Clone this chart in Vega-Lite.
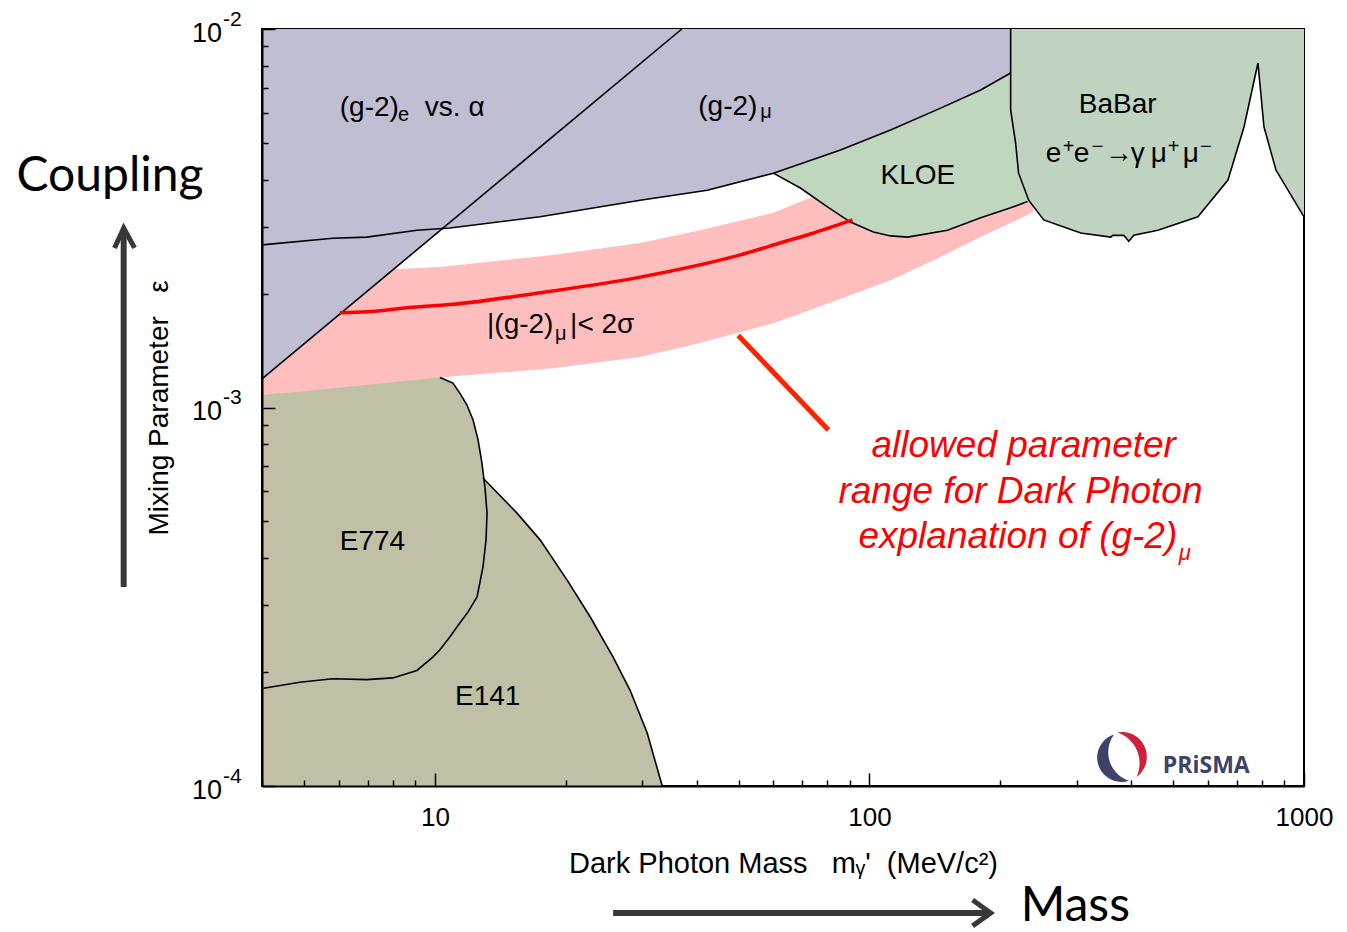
{
  "$schema": "https://vega.github.io/schema/vega-lite/v6.json",
  "width": 1042,
  "height": 757,
  "autosize": {"type": "none"},
  "padding": {"left": 262, "top": 29, "right": 43, "bottom": 146},
  "background": "white",
  "config": {"view": {"stroke": "black", "strokeWidth": 2}, "font": "Liberation Sans"},
  "datasets": {
    "pink": [
      {"x": 4, "y": 0.00108, "y2": 0.00217},
      {"x": 4.886, "y": 0.0011, "y2": 0.0022},
      {"x": 7.67, "y": 0.00116, "y2": 0.00231},
      {"x": 10.27, "y": 0.0012, "y2": 0.00235},
      {"x": 18.7, "y": 0.00127, "y2": 0.00253},
      {"x": 29.68, "y": 0.00136, "y2": 0.00272},
      {"x": 40.79, "y": 0.00148, "y2": 0.00294},
      {"x": 60.09, "y": 0.00167, "y2": 0.00327},
      {"x": 73.13, "y": 0.00181, "y2": 0.00358},
      {"x": 111.8, "y": 0.00217, "y2": 0.00411},
      {"x": 145.8, "y": 0.0025, "y2": 0.00451},
      {"x": 180.3, "y": 0.00282, "y2": 0.00485},
      {"x": 238, "y": 0.00328, "y2": 0.0054}
    ],
    "olive": [
      {"x": 4, "y": 0.0001, "y2": 0.0011},
      {"x": 4.886, "y": 0.0001, "y2": 0.00112},
      {"x": 7.67, "y": 0.0001, "y2": 0.00118},
      {"x": 10.27, "y": 0.0001, "y2": 0.00121},
      {"x": 11.0, "y": 0.0001, "y2": 0.00116},
      {"x": 11.42, "y": 0.0001, "y2": 0.00109},
      {"x": 11.85, "y": 0.0001, "y2": 0.001015},
      {"x": 12.24, "y": 0.0001, "y2": 0.000927},
      {"x": 12.57, "y": 0.0001, "y2": 0.000821},
      {"x": 12.83, "y": 0.0001, "y2": 0.000713},
      {"x": 12.9, "y": 0.0001, "y2": 0.000651},
      {"x": 15.45, "y": 0.0001, "y2": 0.000526},
      {"x": 17.46, "y": 0.0001, "y2": 0.000447},
      {"x": 20.15, "y": 0.0001, "y2": 0.00035},
      {"x": 22.76, "y": 0.0001, "y2": 0.00028},
      {"x": 25.71, "y": 0.0001, "y2": 0.000219},
      {"x": 28.13, "y": 0.0001, "y2": 0.000179},
      {"x": 30.8, "y": 0.0001, "y2": 0.000138},
      {"x": 33.35, "y": 0.0001, "y2": 0.0001}
    ],
    "blue": [
      {"x": 4, "y": 0.00119, "y2": 0.01},
      {"x": 10.3, "y": 0.00294, "y2": 0.01},
      {"x": 10.83, "y": 0.00298, "y2": 0.01},
      {"x": 17.46, "y": 0.00319, "y2": 0.01},
      {"x": 29.68, "y": 0.00353, "y2": 0.01},
      {"x": 42.33, "y": 0.00375, "y2": 0.01},
      {"x": 60.09, "y": 0.00416, "y2": 0.01},
      {"x": 85.76, "y": 0.00479, "y2": 0.01},
      {"x": 111.8, "y": 0.00541, "y2": 0.01},
      {"x": 145.8, "y": 0.00618, "y2": 0.01},
      {"x": 180.3, "y": 0.0069, "y2": 0.01},
      {"x": 211.3, "y": 0.00765, "y2": 0.01},
      {"x": 230, "y": 0.008, "y2": 0.01}
    ],
    "kloe": [
      {"x": 60.09, "y": 0.00416, "y2": 0.00416},
      {"x": 69.34, "y": 0.0038, "y2": 0.00441},
      {"x": 80.04, "y": 0.00339, "y2": 0.00466},
      {"x": 90.42, "y": 0.00309, "y2": 0.00491},
      {"x": 102.1, "y": 0.00291, "y2": 0.00519},
      {"x": 111.8, "y": 0.00284, "y2": 0.00541},
      {"x": 122.4, "y": 0.00282, "y2": 0.00566},
      {"x": 151.2, "y": 0.00294, "y2": 0.0063},
      {"x": 180.3, "y": 0.00317, "y2": 0.0069},
      {"x": 211.3, "y": 0.00337, "y2": 0.00765},
      {"x": 235, "y": 0.00352, "y2": 0.008}
    ],
    "babar": [
      {"x": 211.3, "y": 0.00611, "y2": 0.01},
      {"x": 216.9, "y": 0.005, "y2": 0.01},
      {"x": 220.4, "y": 0.00416, "y2": 0.01},
      {"x": 232.5, "y": 0.00353, "y2": 0.01},
      {"x": 251.8, "y": 0.00313, "y2": 0.01},
      {"x": 306.4, "y": 0.00289, "y2": 0.01},
      {"x": 359.2, "y": 0.00282, "y2": 0.01},
      {"x": 363.0, "y": 0.00285, "y2": 0.01},
      {"x": 384.8, "y": 0.00285, "y2": 0.01},
      {"x": 395.2, "y": 0.00275, "y2": 0.01},
      {"x": 405.8, "y": 0.00285, "y2": 0.01},
      {"x": 461.0, "y": 0.00294, "y2": 0.01},
      {"x": 569.9, "y": 0.00319, "y2": 0.01},
      {"x": 668.3, "y": 0.00399, "y2": 0.01},
      {"x": 727.6, "y": 0.00551, "y2": 0.01},
      {"x": 783.5, "y": 0.00813, "y2": 0.01},
      {"x": 808.9, "y": 0.00551, "y2": 0.01},
      {"x": 861.9, "y": 0.00424, "y2": 0.01},
      {"x": 1000, "y": 0.00319, "y2": 0.01}
    ],
    "outlines": [
      {"c": "diag", "i": 0, "x": 4, "y": 0.00119},
      {"c": "diag", "i": 1, "x": 37.0, "y": 0.01},
      {"c": "g2mu", "i": 0, "x": 4, "y": 0.00269},
      {"c": "g2mu", "i": 1, "x": 5.82, "y": 0.0028},
      {"c": "g2mu", "i": 2, "x": 6.97, "y": 0.00282},
      {"c": "g2mu", "i": 3, "x": 9.09, "y": 0.00294},
      {"c": "g2mu", "i": 4, "x": 10.83, "y": 0.00298},
      {"c": "g2mu", "i": 5, "x": 17.46, "y": 0.00319},
      {"c": "g2mu", "i": 6, "x": 29.68, "y": 0.00353},
      {"c": "g2mu", "i": 7, "x": 42.33, "y": 0.00375},
      {"c": "g2mu", "i": 8, "x": 60.09, "y": 0.00416},
      {"c": "g2mu", "i": 9, "x": 85.76, "y": 0.00479},
      {"c": "g2mu", "i": 10, "x": 111.8, "y": 0.00541},
      {"c": "g2mu", "i": 11, "x": 145.8, "y": 0.00618},
      {"c": "g2mu", "i": 12, "x": 180.3, "y": 0.0069},
      {"c": "g2mu", "i": 13, "x": 211.3, "y": 0.00765},
      {"c": "kloe", "i": 0, "x": 60.09, "y": 0.00416},
      {"c": "kloe", "i": 1, "x": 69.34, "y": 0.0038},
      {"c": "kloe", "i": 2, "x": 80.04, "y": 0.00339},
      {"c": "kloe", "i": 3, "x": 90.42, "y": 0.00309},
      {"c": "kloe", "i": 4, "x": 102.1, "y": 0.00291},
      {"c": "kloe", "i": 5, "x": 111.8, "y": 0.00284},
      {"c": "kloe", "i": 6, "x": 122.4, "y": 0.00282},
      {"c": "kloe", "i": 7, "x": 151.2, "y": 0.00294},
      {"c": "kloe", "i": 8, "x": 180.3, "y": 0.00317},
      {"c": "kloe", "i": 9, "x": 211.3, "y": 0.00337},
      {"c": "kloe", "i": 10, "x": 231.0, "y": 0.0035},
      {"c": "babar", "i": 0, "x": 211.3, "y": 0.01},
      {"c": "babar", "i": 1, "x": 211.3, "y": 0.00611},
      {"c": "babar", "i": 2, "x": 216.9, "y": 0.005},
      {"c": "babar", "i": 3, "x": 220.4, "y": 0.00416},
      {"c": "babar", "i": 4, "x": 232.5, "y": 0.00353},
      {"c": "babar", "i": 5, "x": 251.8, "y": 0.00313},
      {"c": "babar", "i": 6, "x": 306.4, "y": 0.00289},
      {"c": "babar", "i": 7, "x": 359.2, "y": 0.00282},
      {"c": "babar", "i": 8, "x": 363.0, "y": 0.00285},
      {"c": "babar", "i": 9, "x": 384.8, "y": 0.00285},
      {"c": "babar", "i": 10, "x": 395.2, "y": 0.00275},
      {"c": "babar", "i": 11, "x": 405.8, "y": 0.00285},
      {"c": "babar", "i": 12, "x": 461.0, "y": 0.00294},
      {"c": "babar", "i": 13, "x": 569.9, "y": 0.00319},
      {"c": "babar", "i": 14, "x": 668.3, "y": 0.00399},
      {"c": "babar", "i": 15, "x": 727.6, "y": 0.00551},
      {"c": "babar", "i": 16, "x": 783.5, "y": 0.00813},
      {"c": "babar", "i": 17, "x": 808.9, "y": 0.00551},
      {"c": "babar", "i": 18, "x": 861.9, "y": 0.00424},
      {"c": "babar", "i": 19, "x": 1000, "y": 0.00319},
      {"c": "e774", "i": 0, "x": 10.27, "y": 0.0012},
      {"c": "e774", "i": 1, "x": 11.0, "y": 0.00116},
      {"c": "e774", "i": 2, "x": 11.42, "y": 0.00109},
      {"c": "e774", "i": 3, "x": 11.85, "y": 0.001015},
      {"c": "e774", "i": 4, "x": 12.24, "y": 0.000927},
      {"c": "e774", "i": 5, "x": 12.57, "y": 0.000821},
      {"c": "e774", "i": 6, "x": 12.83, "y": 0.000713},
      {"c": "e774", "i": 7, "x": 13.04, "y": 0.000613},
      {"c": "e774", "i": 8, "x": 13.18, "y": 0.000526},
      {"c": "e774", "i": 9, "x": 13.11, "y": 0.000447},
      {"c": "e774", "i": 10, "x": 12.9, "y": 0.000379},
      {"c": "e774", "i": 11, "x": 12.5, "y": 0.000316},
      {"c": "e774", "i": 12, "x": 11.91, "y": 0.000288},
      {"c": "e774", "i": 13, "x": 11.42, "y": 0.00027},
      {"c": "e774", "i": 14, "x": 10.83, "y": 0.000248},
      {"c": "e774", "i": 15, "x": 10.27, "y": 0.000229},
      {"c": "e774", "i": 16, "x": 9.89, "y": 0.000219},
      {"c": "e774", "i": 17, "x": 9.09, "y": 0.000202},
      {"c": "e774", "i": 18, "x": 8.0, "y": 0.000193},
      {"c": "e774", "i": 19, "x": 6.97, "y": 0.000191},
      {"c": "e774", "i": 20, "x": 5.82, "y": 0.000192},
      {"c": "e774", "i": 21, "x": 4.886, "y": 0.000188},
      {"c": "e774", "i": 22, "x": 4.0, "y": 0.000181},
      {"c": "e141", "i": 0, "x": 12.9, "y": 0.000651},
      {"c": "e141", "i": 1, "x": 15.45, "y": 0.000526},
      {"c": "e141", "i": 2, "x": 17.46, "y": 0.000447},
      {"c": "e141", "i": 3, "x": 20.15, "y": 0.00035},
      {"c": "e141", "i": 4, "x": 22.76, "y": 0.00028},
      {"c": "e141", "i": 5, "x": 25.71, "y": 0.000219},
      {"c": "e141", "i": 6, "x": 28.13, "y": 0.000179},
      {"c": "e141", "i": 7, "x": 30.8, "y": 0.000138},
      {"c": "e141", "i": 8, "x": 33.35, "y": 0.0001}
    ],
    "central": [
      {"x": 6.04, "y": 0.00178},
      {"x": 6.97, "y": 0.00179},
      {"x": 8.9, "y": 0.00184},
      {"x": 10.83, "y": 0.00187},
      {"x": 17.46, "y": 0.00201},
      {"x": 29.68, "y": 0.00221},
      {"x": 50.44, "y": 0.00253},
      {"x": 63.37, "y": 0.002736},
      {"x": 73.13, "y": 0.002873},
      {"x": 91.39, "y": 0.00313}
    ],
    "pointer": [{"x": 49.9, "y": 0.00155, "x2": 80.46, "y2": 0.000872}],
    "labels": [
      {"x": 6.04, "y": 0.00589, "text": "(g-2)"},
      {"x": 9.48, "y": 0.00589, "text": "vs. α"},
      {"x": 40.36, "y": 0.00593, "text": "(g-2)"},
      {"x": 106.0, "y": 0.0039, "text": "KLOE"},
      {"x": 303.1, "y": 0.006, "text": "BaBar"},
      {"x": 254.4, "y": 0.00445, "text": "e"},
      {"x": 295.1, "y": 0.00445, "text": "e"},
      {"x": 347.9, "y": 0.00445, "text": "→"},
      {"x": 399.5, "y": 0.00445, "text": "γ"},
      {"x": 444.1, "y": 0.00445, "text": "μ"},
      {"x": 526.2, "y": 0.00445, "text": "μ"},
      {"x": 13.18, "y": 0.001573, "text": "|(g-2)"},
      {"x": 20.47, "y": 0.001573, "text": "|< 2σ"},
      {"x": 6.04, "y": 0.00042, "text": "E774"},
      {"x": 11.12, "y": 0.0001637, "text": "E141"}
    ],
    "subs": [
      {"x": 8.22, "y": 0.00571, "text": "e"},
      {"x": 56.08, "y": 0.00582, "text": "μ"},
      {"x": 278.4, "y": 0.0047, "text": "+"},
      {"x": 324.8, "y": 0.0047, "text": "−"},
      {"x": 486.0, "y": 0.0047, "text": "+"},
      {"x": 576.0, "y": 0.0047, "text": "−"},
      {"x": 18.9, "y": 0.001508, "text": "μ"}
    ],
    "note": [
      {"x": 101.1, "y": 0.00074, "text": "allowed parameter"},
      {"x": 84.84, "y": 0.000559, "text": "range for Dark Photon"},
      {"x": 94.34, "y": 0.000425, "text": "explanation of (g-2)"}
    ],
    "notesub": [{"x": 515.2, "y": 0.000396, "text": "μ"}],
    "ylab": [
      {"x": 4, "y": 0.01, "base": "10", "exp": "-2"},
      {"x": 4, "y": 0.001, "base": "10", "exp": "-3"},
      {"x": 4, "y": 0.0001, "base": "10", "exp": "-4"}
    ],
    "big": [
      {"x": 1.089, "y": 0.00373, "text": "Coupling"},
      {"x": 222.8, "y": 0.000044, "text": "Mass"}
    ],
    "shafts": [
      {"x": 1.922, "y": 0.0003355, "x2": 1.922, "y2": 0.00295},
      {"x": 25.71, "y": 0.0000462, "x2": 188.0, "y2": 0.0000462}
    ],
    "heads": [
      {"h": "v", "i": 0, "x": 1.831, "y": 0.00264},
      {"h": "v", "i": 1, "x": 1.922, "y": 0.00298},
      {"h": "v", "i": 2, "x": 2.036, "y": 0.00264},
      {"h": "h", "i": 0, "x": 172.7, "y": 0.00004996},
      {"h": "h", "i": 1, "x": 190.1, "y": 0.0000462},
      {"h": "h", "i": 2, "x": 172.7, "y": 0.0000427}
    ],
    "logo": [
      {"x": 382.7, "y": 0.0001193, "part": "navy"},
      {"x": 382.7, "y": 0.0001193, "part": "red"}
    ],
    "logotext": [{"x": 473.3, "y": 0.0001082, "text": "PRiSMA"}]
  },
  "encoding": {
    "x": {
      "field": "x",
      "type": "quantitative",
      "scale": {"type": "log", "domain": [4, 1000], "nice": false, "zero": false},
      "axis": {
        "zindex": 1,
        "values": [4, 5, 6, 7, 8, 9, 10, 20, 30, 40, 50, 60, 70, 80, 90, 100, 200, 300, 400, 500, 600, 700, 800, 900, 1000],
        "labelExpr": "(datum.value == 10 || datum.value == 100 || datum.value == 1000) ? format(datum.value, 'd') : ''",
        "tickSize": {"condition": {"test": "datum.value == 10 || datum.value == 100 || datum.value == 1000", "value": -13}, "value": -6},
        "tickColor": "black",
        "tickWidth": 1.5,
        "domainColor": "black",
        "domainWidth": 2,
        "grid": false,
        "labelFont": "Liberation Sans",
        "labelFontSize": 26,
        "labelColor": "black",
        "labelPadding": 31,
        "labelFlush": false,
        "labelOverlap": false,
        "title": "Dark Photon Mass\u00a0\u00a0\u00a0mᵧ'\u00a0\u00a0(MeV/c²)",
        "titleFont": "Liberation Sans",
        "titleFontSize": 29,
        "titleFontWeight": "normal",
        "titleColor": "black",
        "titlePadding": 12
      }
    },
    "y": {
      "field": "y",
      "type": "quantitative",
      "scale": {"type": "log", "domain": [0.0001, 0.01], "nice": false, "zero": false},
      "axis": {
        "zindex": 1,
        "values": [0.0001, 0.0002, 0.0003, 0.0004, 0.0005, 0.0006, 0.0007, 0.0008, 0.0009, 0.001, 0.002, 0.003, 0.004, 0.005, 0.006, 0.007, 0.008, 0.009, 0.01],
        "labels": false,
        "tickSize": {"condition": {"test": "datum.value == 0.0001 || datum.value == 0.001 || datum.value == 0.01", "value": -13}, "value": -6},
        "tickColor": "black",
        "tickWidth": 1.5,
        "domainColor": "black",
        "domainWidth": 2,
        "grid": false,
        "title": "Mixing Parameter\u00a0\u00a0\u00a0ε",
        "titleFont": "Liberation Sans",
        "titleFontSize": 28,
        "titleFontWeight": "normal",
        "titleColor": "black",
        "titlePadding": 88
      }
    }
  },
  "layer": [
    {"data": {"name": "olive"}, "mark": {"type": "area", "color": "#BFC0A6", "interpolate": "linear"}, "encoding": {"y2": {"field": "y2"}}},
    {"data": {"name": "pink"}, "mark": {"type": "area", "color": "#FFBEBE", "interpolate": "linear"}, "encoding": {"y2": {"field": "y2"}}},
    {"data": {"name": "blue"}, "mark": {"type": "area", "color": "#BFBED2", "interpolate": "linear"}, "encoding": {"y2": {"field": "y2"}}},
    {"data": {"name": "kloe"}, "mark": {"type": "area", "color": "#C0D6BF", "interpolate": "linear"}, "encoding": {"y2": {"field": "y2"}}},
    {"data": {"name": "babar"}, "mark": {"type": "area", "color": "#C0D3C0", "interpolate": "linear"}, "encoding": {"y2": {"field": "y2"}}},
    {"data": {"name": "outlines"}, "mark": {"type": "line", "color": "black", "strokeWidth": 1.6, "interpolate": "linear"}, "encoding": {"detail": {"field": "c"}, "order": {"field": "i", "type": "quantitative"}}},
    {"data": {"name": "central"}, "mark": {"type": "line", "color": "#FF0000", "strokeWidth": 3.5, "interpolate": "monotone"}, "encoding": {}},
    {"data": {"name": "pointer"}, "mark": {"type": "rule", "color": "#FF2200", "strokeWidth": 5}, "encoding": {"x2": {"field": "x2"}, "y2": {"field": "y2"}}},
    {"data": {"name": "labels"}, "mark": {"type": "text", "align": "left", "baseline": "alphabetic", "fontSize": 28, "font": "Liberation Sans", "color": "black"}, "encoding": {"text": {"field": "text"}}},
    {"data": {"name": "subs"}, "mark": {"type": "text", "align": "left", "baseline": "alphabetic", "fontSize": 20, "font": "Liberation Sans", "color": "black"}, "encoding": {"text": {"field": "text"}}},
    {"data": {"name": "note"}, "mark": {"type": "text", "align": "left", "baseline": "alphabetic", "fontSize": 37, "fontStyle": "italic", "font": "Liberation Sans", "color": "#FF0000"}, "encoding": {"text": {"field": "text"}}},
    {"data": {"name": "notesub"}, "mark": {"type": "text", "align": "left", "baseline": "alphabetic", "fontSize": 22, "fontStyle": "italic", "font": "Liberation Sans", "color": "#FF0000"}, "encoding": {"text": {"field": "text"}}},
    {"data": {"name": "ylab"}, "mark": {"type": "text", "align": "right", "baseline": "alphabetic", "fontSize": 27, "font": "Liberation Sans", "color": "black", "dx": -40, "dy": 12.5}, "encoding": {"text": {"field": "base"}}},
    {"data": {"name": "ylab"}, "mark": {"type": "text", "align": "left", "baseline": "alphabetic", "fontSize": 21, "font": "Liberation Sans", "color": "black", "dx": -39, "dy": -3.5}, "encoding": {"text": {"field": "exp"}}},
    {"data": {"name": "big"}, "mark": {"type": "text", "align": "left", "baseline": "alphabetic", "fontSize": 48, "font": "Lato", "color": "black"}, "encoding": {"text": {"field": "text"}}},
    {"data": {"name": "shafts"}, "mark": {"type": "rule", "color": "#383838", "strokeWidth": 6}, "encoding": {"x2": {"field": "x2"}, "y2": {"field": "y2"}}},
    {"data": {"name": "heads"}, "mark": {"type": "line", "color": "#383838", "strokeWidth": 5, "strokeJoin": "miter"}, "encoding": {"detail": {"field": "h"}, "order": {"field": "i", "type": "quantitative"}}},
    {"data": {"name": "logo"}, "mark": {"type": "point", "filled": true, "size": 2500, "opacity": 1, "strokeWidth": 0}, "encoding": {
      "shape": {"field": "part", "type": "nominal", "legend": null, "scale": {"domain": ["navy", "red"], "range": ["M-0.35,-0.9A0.97,0.97,0,0,0,0.25,0.95A1.2,1.2,0,0,1,-0.35,-0.9Z", "M-0.2,-0.98A0.99,0.99,0,0,1,0.55,0.8A1.3,1.3,0,0,0,-0.2,-0.98Z"]}},
      "color": {"field": "part", "type": "nominal", "legend": null, "scale": {"domain": ["navy", "red"], "range": ["#3D4268", "#D0203A"]}}
    }},
    {"data": {"name": "logotext"}, "mark": {"type": "text", "align": "left", "baseline": "alphabetic", "fontSize": 23, "fontWeight": "bold", "font": "Open Sans", "color": "#3D4268"}, "encoding": {"text": {"field": "text"}}}
  ]
}
